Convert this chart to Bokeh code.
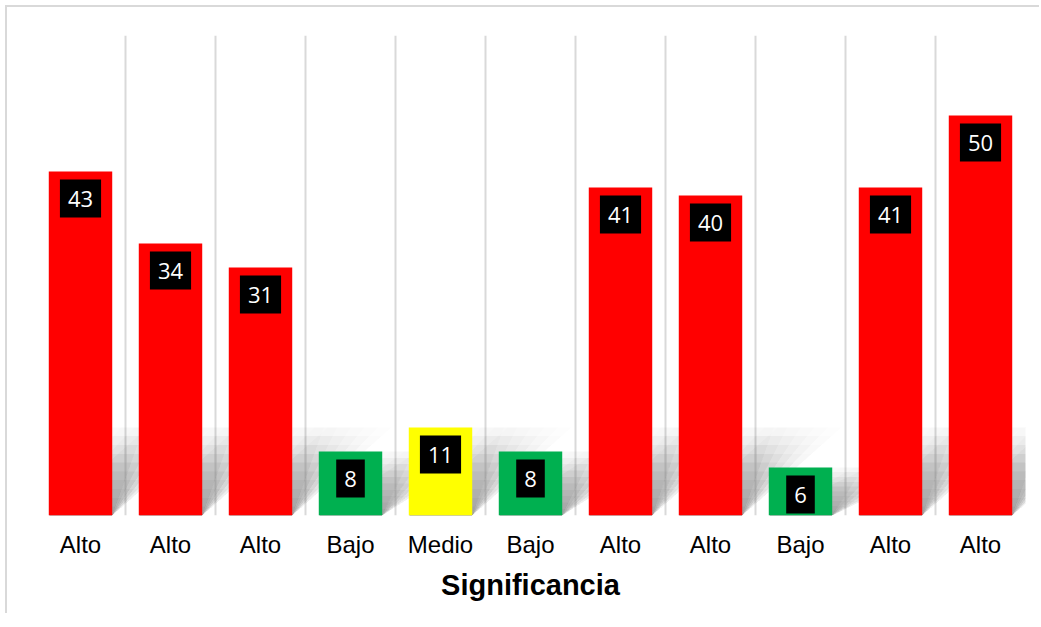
from bokeh.plotting import figure
from bokeh.models import ColumnDataSource, FixedTicker, Range1d
from bokeh.core.properties import value
from bokeh.embed import file_html
from bokeh.resources import INLINE

# ---- data ----
categories = ["Alto", "Alto", "Alto", "Bajo", "Medio", "Bajo", "Alto", "Alto", "Bajo", "Alto", "Alto"]
values = [43, 34, 31, 8, 11, 8, 41, 40, 6, 41, 50]
level_colors = {"Alto": "#FF0000", "Medio": "#FFFF00", "Bajo": "#00B050"}
axis_title = "Significancia"

n = len(categories)
bar_w = 0.705
xs = [i + 0.5 for i in range(n)]
src = ColumnDataSource(dict(
    x=xs,
    top=values,
    color=[level_colors[c] for c in categories],
    label=[str(v) for v in values],
))

p = figure(
    width=1034, height=608,
    x_range=Range1d(0, n), y_range=Range1d(0, 60),
    output_backend="svg", toolbar_location=None,
    min_border_left=28, min_border_right=16, min_border_top=28, min_border_bottom=100,
    background_fill_color="white", border_fill_color="white",
    styles={"border-left": "2px solid #d9d9d9", "border-top": "2px solid #d9d9d9",
            "margin-left": "5px", "margin-top": "5px"},
)
p.outline_line_color = None

# soft floor shadow (decorative): many faint skewed layers to fake a blur
shadow_h = 11.0
heights = [i / 10 for i in range(1, 11)]
slopes = [0.35, 0.5, 0.65, 0.8, 0.95, 1.1]
sx, sy = [], []
for f in heights:
    for d in slopes:
        for x, v in zip(xs, values):
            h = min(v, shadow_h) * f
            dd = d * f
            x0, x1 = x - bar_w / 2, x + bar_w / 2
            sx.append([x0, x1, x1 + dd, x0 + dd])
            sy.append([0, 0, h, h])
p.patches(sx, sy, fill_color="#707070", fill_alpha=0.017, line_color=None)

p.vbar(x="x", top="top", bottom=0, width=bar_w, fill_color="color", line_color=None, source=src)

p.text(x="x", y="top", text="label", source=src,
       text_color="white", text_font=value("Open Sans"), text_font_size="22px",
       anchor="top_center", y_offset=8,
       background_fill_color="black",
       padding=dict(left=8, right=8, top=11, bottom=11))

# axes
p.yaxis.visible = False
p.ygrid.visible = False
ax = p.xaxis[0]
ax.ticker = FixedTicker(ticks=xs)
ax.major_label_overrides = {x: c for x, c in zip(xs, categories)}
ax.axis_line_color = None
ax.major_tick_line_color = None
ax.minor_tick_line_color = None
ax.major_tick_out = 0
ax.major_tick_in = 0
ax.major_label_standoff = 15
ax.major_label_text_font = "Liberation Sans"
ax.major_label_text_font_size = "24px"
ax.major_label_text_color = "#000000"
ax.axis_label = axis_title
ax.axis_label_text_font = "Liberation Sans"
ax.axis_label_text_font_style = "bold"
ax.axis_label_text_font_size = "29px"
ax.axis_label_text_color = "#000000"
ax.axis_label_standoff = 8

p.xgrid.ticker = FixedTicker(ticks=list(range(n + 1)))
p.xgrid.grid_line_color = "#d9d9d9"
p.xgrid.grid_line_width = 2

open("out.html", "w").write(file_html(p, INLINE))
